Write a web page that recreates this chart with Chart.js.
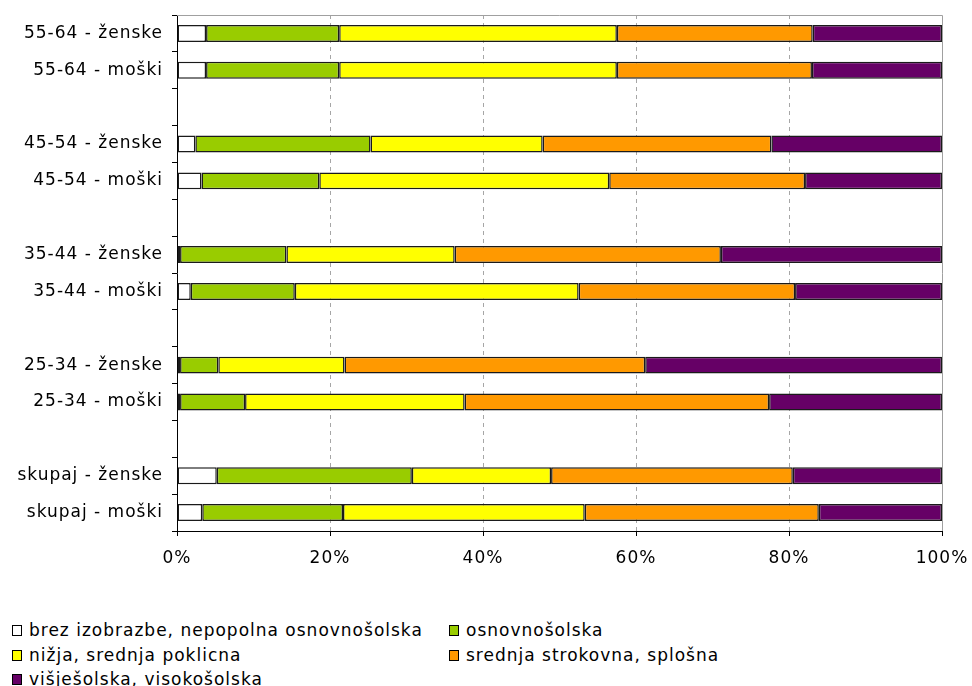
<!DOCTYPE html>
<html lang="sl">
<head>
<meta charset="UTF-8">
<title>Izobrazba po starosti in spolu</title>
<script src="https://cdn.jsdelivr.net/npm/chart.js@4.4.1/dist/chart.umd.min.js"></script>
<style>
  body { margin: 0; background: #fff; }
  .wrap { position: relative; width: 972px; height: 686px; }
  #chart { position: absolute; left: 0; top: 0; }
  .legend { position: absolute; left: 0; top: 618px; width: 972px;
            font-family: "DejaVu Sans", sans-serif; font-size: 17px; letter-spacing: 1px; color: #000; }
  .legend div { position: absolute; height: 24px; line-height: 24px; white-space: nowrap; }
  .legend span { display: inline-block; width: 8px; height: 9px; border: 1px solid #000;
                 margin-right: 7px; vertical-align: 0px; }
</style>
</head>
<body>
<div class="wrap">
  <canvas id="chart" width="972" height="600"></canvas>
  <div class="legend" id="legend"></div>
</div>
<script>
// categories, top to bottom; '' = empty row between age groups
var categories = ['55-64 - ženske', '55-64 - moški', '',
                  '45-54 - ženske', '45-54 - moški', '',
                  '35-44 - ženske', '35-44 - moški', '',
                  '25-34 - ženske', '25-34 - moški', '',
                  'skupaj - ženske', 'skupaj - moški'];

var seriesNames = ['brez izobrazbe, nepopolna osnovnošolska', 'osnovnošolska',
                   'nižja, srednja poklicna', 'srednja strokovna, splošna',
                   'višješolska, visokošolska'];

// shares in %
var brez     = [3.8, 3.8, null, 2.4, 3.2, null, 0.4, 1.8, null, 0.4, 0.4, null, 5.2, 3.3];
var osnovna  = [17.4, 17.4, null, 22.9, 15.4, null, 13.9, 13.6, null, 5.0, 8.5, null, 25.5, 18.4];
var poklicna = [36.3, 36.3, null, 22.5, 37.9, null, 22.0, 37.1, null, 16.5, 28.7, null, 18.2, 31.6];
var srednja  = [25.6, 25.5, null, 29.9, 25.6, null, 34.8, 28.3, null, 39.3, 39.8, null, 31.6, 30.6];
var visoka   = [16.9, 17.0, null, 22.3, 17.9, null, 28.9, 19.2, null, 38.8, 22.6, null, 19.5, 16.1];

var xTicks = [0, 20, 40, 60, 80, 100];

var colors = ['#ffffff', '#99cc00', '#ffff00', '#ff9900', '#660066'];
var series = [brez, osnovna, poklicna, srednja, visoka];

Chart.defaults.font.family = '"DejaVu Sans", sans-serif';
Chart.defaults.font.size = 17;
Chart.defaults.color = '#000';

// wider text like the original
var spacing = {
  id: 'spacing',
  beforeUpdate: function (chart) { chart.ctx.letterSpacing = '1px'; },
  beforeDraw: function (chart) { chart.ctx.letterSpacing = '1px'; }
};

// gray frame on top and right of the plot
var frame = {
  id: 'frame',
  beforeDatasetsDraw: function (chart) {
    var a = chart.chartArea, c = chart.ctx;
    c.save();
    c.strokeStyle = '#a0a0a0';
    c.lineWidth = 1;
    c.beginPath();
    c.moveTo(a.left, a.top + 0.5);
    c.lineTo(a.right + 0.5, a.top + 0.5);
    c.lineTo(a.right + 0.5, a.bottom);
    c.stroke();
    c.restore();
  }
};

var chart = new Chart(document.getElementById('chart'), {
  type: 'bar',
  data: {
    labels: categories,
    datasets: series.map(function (d, i) {
      return {
        label: seriesNames[i],
        data: d,
        backgroundColor: colors[i],
        borderColor: '#1a1a1a',
        borderWidth: 1.5,
        borderSkipped: false,
        categoryPercentage: 1,
        barPercentage: 0.46
      };
    })
  },
  options: {
    indexAxis: 'y',
    responsive: false,
    animation: false,
    layout: { padding: { top: 15, right: 30, left: 0, bottom: 0 } },
    plugins: { legend: { display: false }, tooltip: { enabled: false } },
    scales: {
      x: {
        stacked: true,
        min: 0,
        max: 100,
        afterBuildTicks: function (s) { s.ticks = xTicks.map(function (v) { return { value: v }; }); },
        afterFit: function (s) { s.height = 69; s.paddingLeft = 0; s.paddingRight = 0; },
        ticks: { padding: 12, callback: function (v) { return v + '%'; } },
        grid: {
          color: function (c) {
            return (c.tick && (c.tick.value === 0 || c.tick.value === 100)) ? 'rgba(0,0,0,0)' : '#a6a6a6';
          },
          tickColor: '#000',
          tickLength: 5
        },
        border: { color: '#000', dash: [4, 4] }
      },
      y: {
        stacked: true,
        afterFit: function (s) { s.width = 177; s.paddingTop = 0; s.paddingBottom = 0; },
        ticks: { autoSkip: false, padding: 9 },
        grid: { drawOnChartArea: false, tickColor: '#000', tickLength: 5 },
        border: { color: '#000' }
      }
    }
  },
  plugins: [spacing, frame]
});

// legend, two columns like the original
var pos = [[12, 0], [449, 0], [12, 25], [449, 25], [12, 49]];
var legend = document.getElementById('legend');
seriesNames.forEach(function (name, i) {
  var row = document.createElement('div');
  row.style.left = pos[i][0] + 'px';
  row.style.top = pos[i][1] + 'px';
  var box = document.createElement('span');
  box.style.background = colors[i];
  row.appendChild(box);
  row.appendChild(document.createTextNode(name));
  legend.appendChild(row);
});
</script>
</body>
</html>
